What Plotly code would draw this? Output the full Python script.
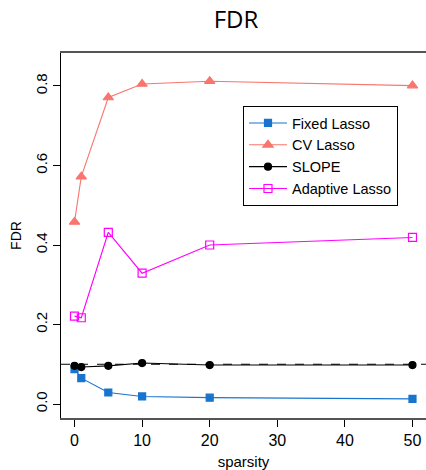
import plotly.graph_objects as go

# sparsity levels on the x axis
sparsity = [0, 1, 5, 10, 20, 50]

# FDR of each method at each sparsity level
fixed_lasso = [0.088, 0.065, 0.029, 0.019, 0.016, 0.013]
cv_lasso = [0.458, 0.572, 0.771, 0.805, 0.812, 0.801]
slope = [0.096, 0.093, 0.096, 0.103, 0.098, 0.098]
adaptive_lasso = [0.221, 0.217, 0.432, 0.329, 0.400, 0.419]

target_fdr = 0.1
y_ticks = [0.0, 0.2, 0.4, 0.6, 0.8]
x_ticks = [0, 10, 20, 30, 40, 50]

series = [
    ("Fixed Lasso", fixed_lasso, "#1874CD", "square", 7),
    ("CV Lasso", cv_lasso, "#F8766D", "triangle-up", 9),
    ("SLOPE", slope, "#000000", "circle", 7),
    ("Adaptive Lasso", adaptive_lasso, "#FF00FF", "square-open", 8),
]

fig = go.Figure()

# nominal FDR level
fig.add_shape(
    type="line", xref="paper", x0=0, x1=1, yref="y", y0=target_fdr, y1=target_fdr,
    line=dict(color="#000000", width=1, dash="dash"), layer="below",
)

for name, values, color, symbol, size in series:
    fig.add_trace(go.Scatter(
        x=sparsity, y=values, name=name, mode="lines+markers",
        line=dict(color=color, width=1.1),
        marker=dict(symbol=symbol, size=size, color=color,
                    line=dict(color=color, width=1.2)),
    ))

base_font = "Liberation Sans, Arial, sans-serif"

fig.update_layout(
    width=426, height=470,
    margin=dict(l=61, r=0, t=53, b=52),
    paper_bgcolor="white", plot_bgcolor="white",
    font=dict(family=base_font, size=15, color="#000000"),
    title=dict(text="FDR", x=236 / 426, xref="container", xanchor="center",
               y=1 - 20 / 470, yref="container", yanchor="middle",
               font=dict(family="Open Sans, sans-serif", size=24, color="#000000")),
    showlegend=True,
    legend=dict(
        x=(243 - 61) / 365, y=(418 - 106) / 365, xanchor="left", yanchor="top",
        bordercolor="#000000", borderwidth=1, bgcolor="white",
        font=dict(family=base_font, size=14.5, color="#000000"),
        itemwidth=38, tracegroupgap=0,
    ),
    xaxis=dict(
        range=[-2, 52], tickvals=x_ticks, ticks="outside", ticklen=7,
        tickcolor="#000000", showgrid=False, zeroline=False,
        showline=True, linecolor="#555555", linewidth=2, mirror=True,
        title=dict(text="sparsity", standoff=8, font=dict(size=15)),
        tickfont=dict(size=16),
    ),
    yaxis=dict(
        range=[-0.0352, 0.883], tickvals=y_ticks, tickformat=".1f",
        ticks="outside", ticklen=7, tickcolor="#000000", tickangle=-90,
        showgrid=False, zeroline=False,
        showline=True, linecolor="#000000", linewidth=1,
        title=dict(text="FDR", standoff=8, font=dict(size=14)),
        tickfont=dict(size=15),
    ),
)

fig.write_html("out.html")
